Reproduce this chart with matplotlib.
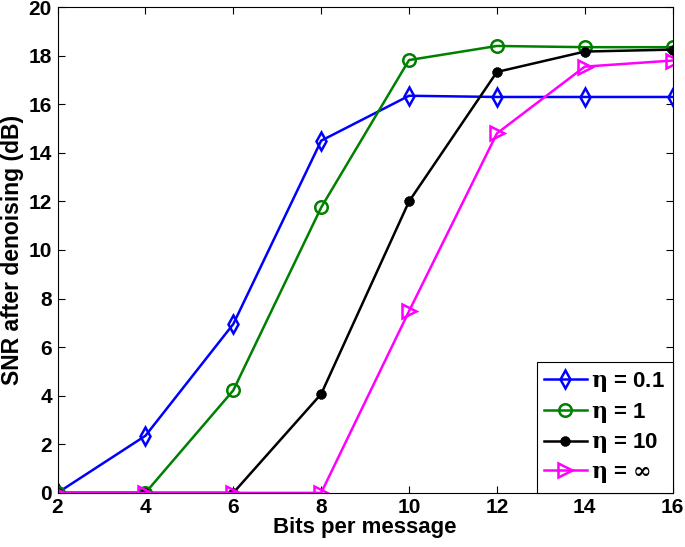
import matplotlib
matplotlib.use('Agg')
import matplotlib.pyplot as plt

plt.rcParams['font.family'] = ['Liberation Sans', 'DejaVu Sans']
plt.rcParams['font.weight'] = 'bold'
plt.rcParams['mathtext.fontset'] = 'dejavuserif'

bits = [2, 4, 6, 8, 10, 12, 14, 16]
snr_01 = [0, 2.35, 6.95, 14.5, 16.35, 16.3, 16.3, 16.3]
snr_1 = [0, 0, 4.22, 11.75, 17.82, 18.4, 18.35, 18.35]
snr_10 = [0, 0, 0, 4.07, 12.0, 17.33, 18.17, 18.25]
snr_inf = [0, 0, 0, 0, 7.48, 14.8, 17.55, 17.8]

labels = [r'$\mathrm{\eta}$ = 0.1', r'$\mathrm{\eta}$ = 1', r'$\mathrm{\eta}$ = 10',
          r'$\mathrm{\eta}$ = $\mathrm{\infty}$']

fig = plt.figure(figsize=(6.85, 5.47), dpi=100)
ax = fig.add_axes([0.084, 0.099, 0.898, 0.888])

ax.plot(bits, snr_01, color='blue', lw=1.8, marker='d', ms=9, mfc='none', mew=1.8, label=labels[0])
ax.plot(bits, snr_1, color='green', lw=1.8, marker='o', ms=9, mfc='none', mew=1.8, label=labels[1])
ax.plot(bits, snr_10, color='black', lw=1.8, marker=(8, 2, 0), ms=7, mew=2.5, label=labels[2])
ax.plot(bits, snr_inf, color='magenta', lw=1.8, marker='>', ms=10, mfc='none', mew=1.8, label=labels[3])

ax.set_xlim(2, 16)
ax.set_ylim(0, 20)
ax.set_xticks(range(2, 17, 2))
ax.set_yticks(range(0, 21, 2))
ax.tick_params(direction='in', top=True, right=True, labelsize=15, length=5, pad=4)
for sp in ax.spines.values():
    sp.set_linewidth(0.8)

ax.set_xlabel('Bits per message', fontsize=16, fontweight='bold', labelpad=0)
ax.set_ylabel('SNR after denoising (dB)', fontsize=16.5, fontweight='bold', labelpad=3)

leg = ax.legend(loc='lower right', fontsize=16, fancybox=False,
                edgecolor='black', framealpha=1, handlelength=1.9, borderaxespad=0,
                labelspacing=0.3, handletextpad=0.2, borderpad=0.35)
leg.get_frame().set_linewidth(0.8)

fig.savefig('out.png', dpi=100)
